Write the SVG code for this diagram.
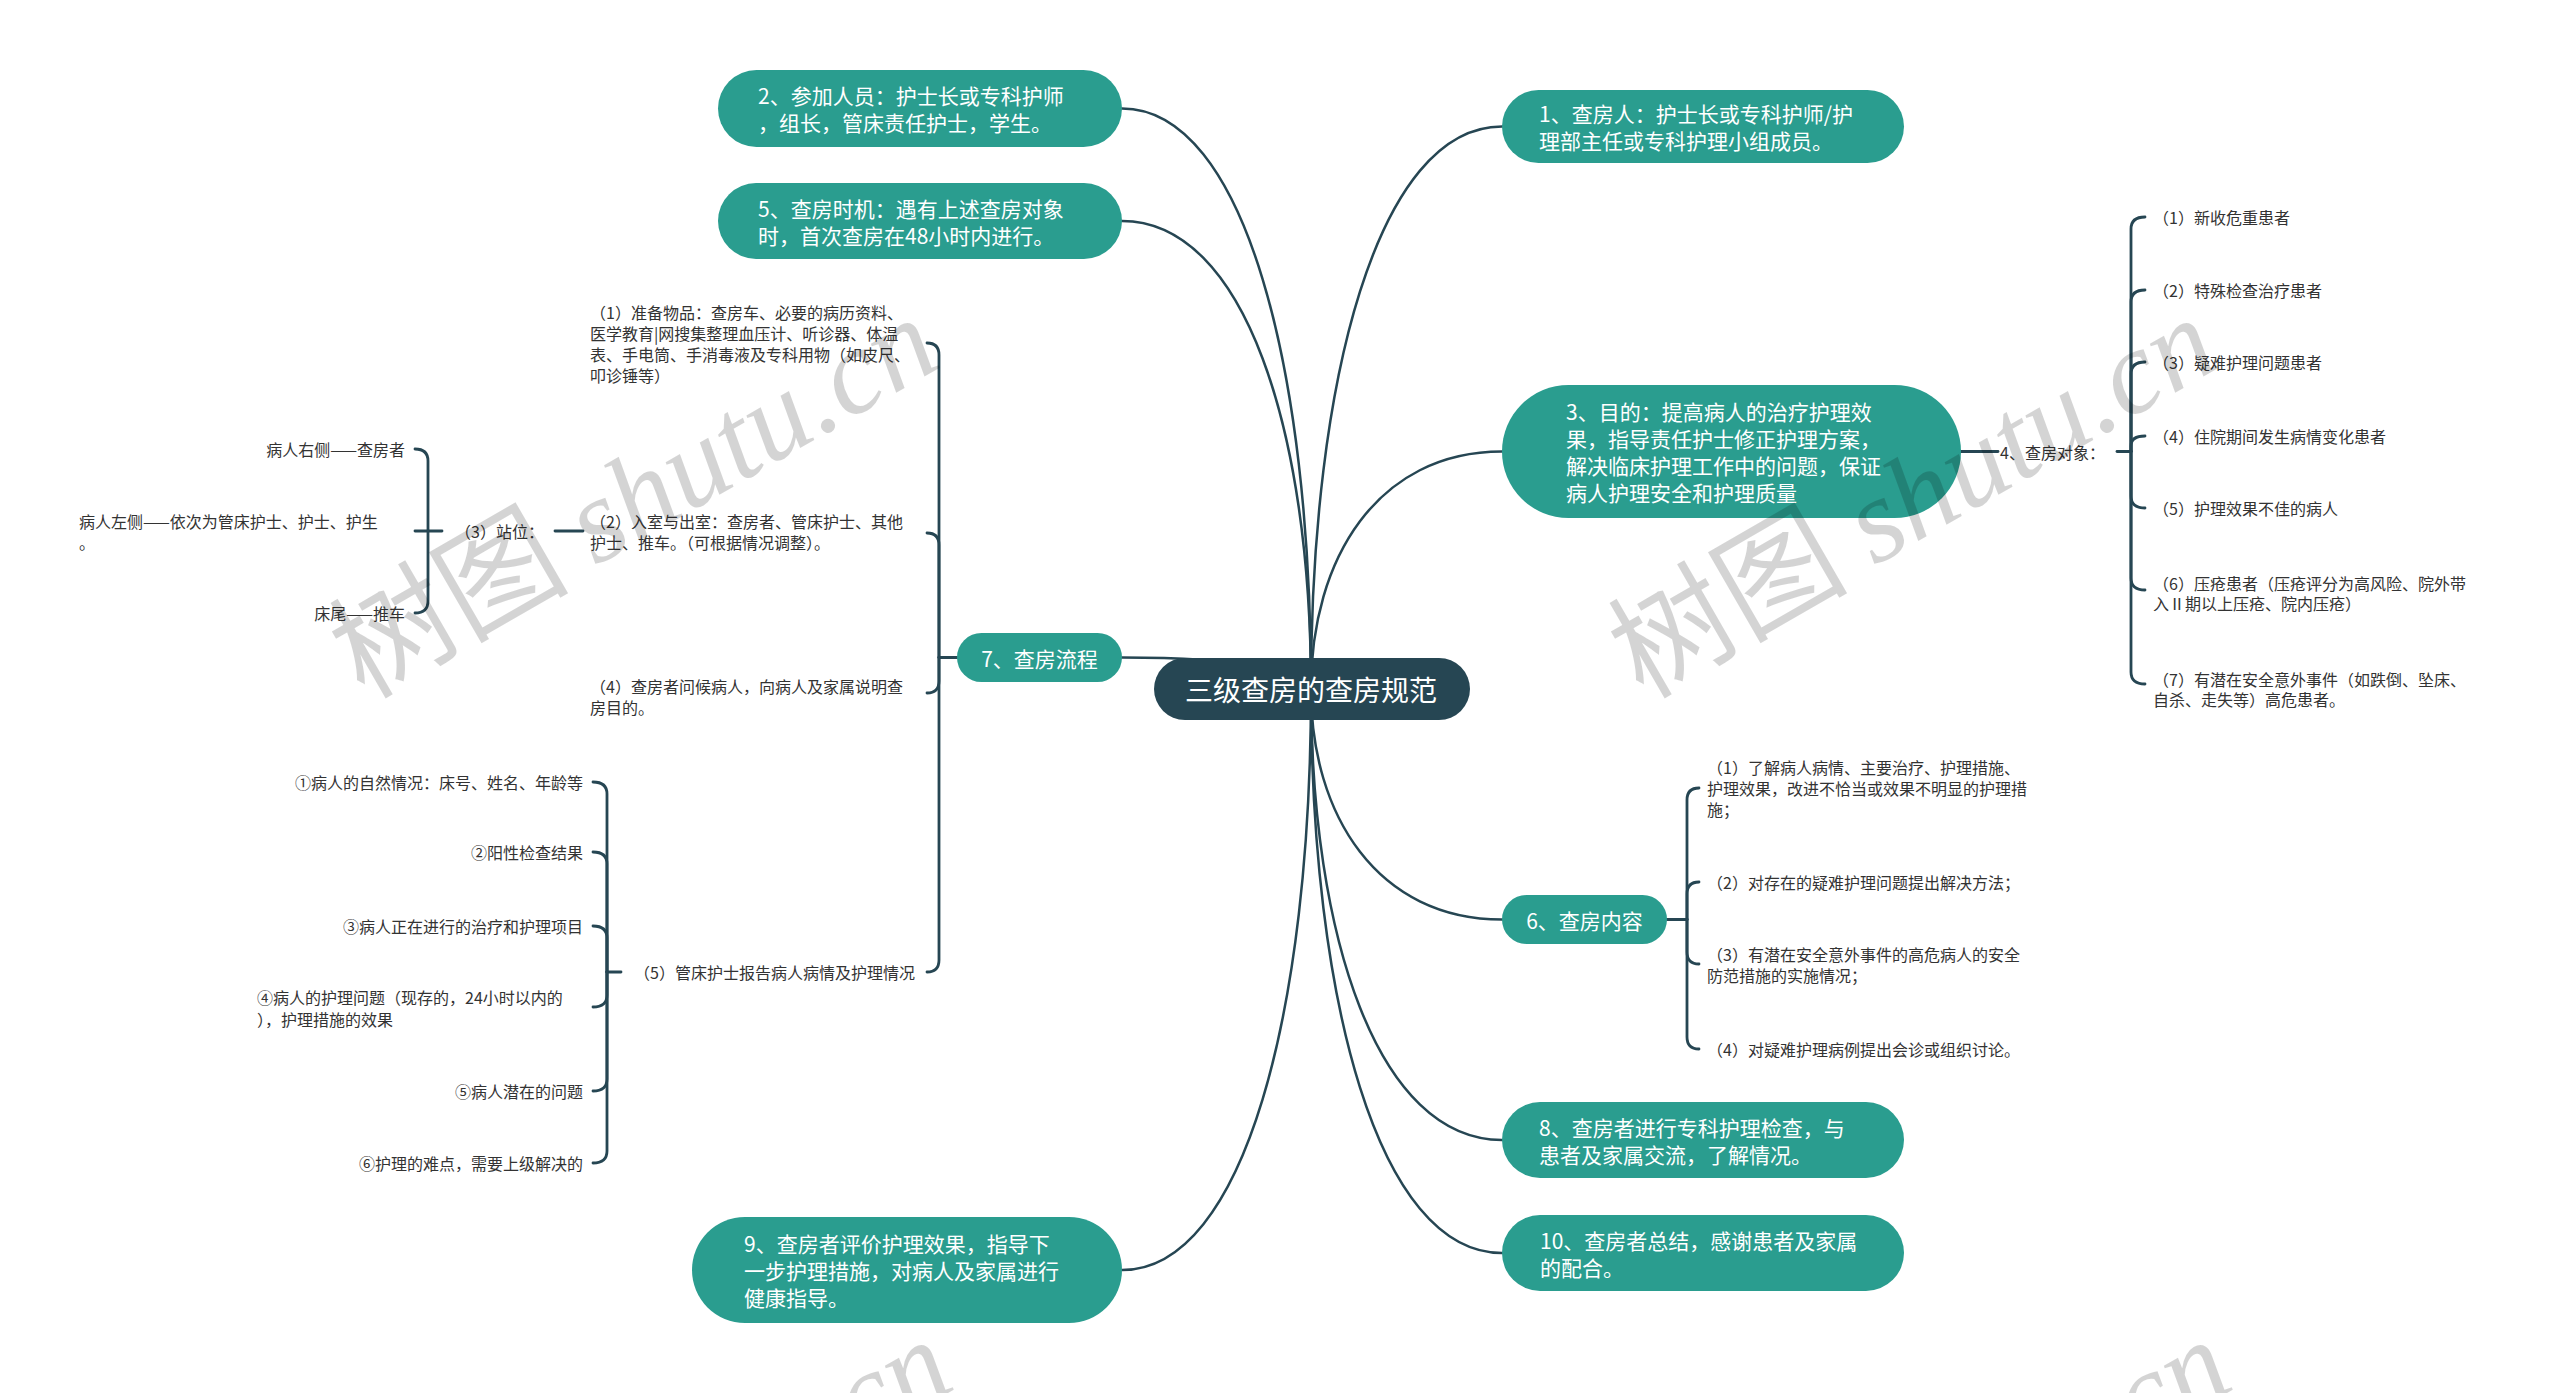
<svg xmlns="http://www.w3.org/2000/svg" width="2560" height="1393" viewBox="0 0 2560 1393">
<style>
  .bg { fill: #ffffff; }
  .root rect { fill: #264653; }
  .main rect { fill: #2a9d8f; }
  .root text { fill: #ffffff; font-family: "Noto Sans CJK SC", "Noto Sans", sans-serif; font-size: 28px; text-anchor: middle; dominant-baseline: central; }
  .main text { fill: #ffffff; font-family: "Noto Sans CJK SC", "Noto Sans", sans-serif; font-size: 21px; dominant-baseline: central; }
  .main text.c { text-anchor: middle; }
  .sub text { fill: #333333; font-family: "Noto Sans CJK SC", "Noto Sans", sans-serif; font-size: 16px; dominant-baseline: central; }
  .sub text.r { text-anchor: end; }
  #connectors path { fill: none; stroke: #264653; stroke-width: 2.5; stroke-linecap: round; }
  #connectors .br path { stroke-width: 2.8; }
  .wm { fill: #000000; fill-opacity: 0.17; font-size: 120px; }
  .wm .cjk { font-family: "Noto Sans CJK SC", sans-serif; }
  .wm .lat { font-family: "Liberation Serif", serif; font-style: italic; }
</style>
<rect class="bg" x="0" y="0" width="2560" height="1393"/>

<g id="connectors">
  <!-- root to main topics -->
  <path d="M1311,689 C1311,379.6 1377.9,126.5 1502,126.5"/>
  <path d="M1311,689 C1311,369.7 1244.9,108.5 1122,108.5"/>
  <path d="M1311,689 C1311,431.6 1244.9,221 1122,221"/>
  <path d="M1311,689 C1311,558.4 1377.9,451.5 1502,451.5"/>
  <path d="M1311,689 C1311,671.7 1244.9,657.5 1122,657.5"/>
  <path d="M1311,689 C1311,815.8 1377.9,919.5 1502,919.5"/>
  <path d="M1311,689 C1311,937 1377.9,1140 1502,1140"/>
  <path d="M1311,689 C1311,999.2 1377.9,1253 1502,1253"/>
  <path d="M1311,689 C1311,1008.6 1244.9,1270 1122,1270"/>
  <g class="br">
    <!-- node 3 -> 4、查房对象 -->
    <path d="M1961,451.5 L1998,451.5"/>
    <path d="M2117,451.5 L2131,451.5"/>
    <path d="M2131,451.5 L2131,229 Q2131,217 2145,217"/>
    <path d="M2131,451.5 L2131,302 Q2131,290 2145,290"/>
    <path d="M2131,451.5 L2131,374 Q2131,362 2145,362"/>
    <path d="M2131,451.5 L2131,446 Q2131,436 2145,436"/>
    <path d="M2131,451.5 L2131,496 Q2131,508 2145,508"/>
    <path d="M2131,451.5 L2131,578 Q2131,590 2145,590"/>
    <path d="M2131,451.5 L2131,672 Q2131,684 2145,684"/>
    <!-- node 6 -->
    <path d="M1667,919.5 L1687,919.5"/>
    <path d="M1687,919.5 L1687,800 Q1687,788 1699,788"/>
    <path d="M1687,919.5 L1687,894 Q1687,882 1699,882"/>
    <path d="M1687,919.5 L1687,952 Q1687,964 1699,964"/>
    <path d="M1687,919.5 L1687,1037 Q1687,1049 1699,1049"/>
    <!-- node 7 -->
    <path d="M957,657.5 L939,657.5"/>
    <path d="M939,657.5 L939,355 Q939,343 927,343"/>
    <path d="M939,657.5 L939,545 Q939,533 927,533"/>
    <path d="M939,657.5 L939,681 Q939,693 927,693"/>
    <path d="M939,657.5 L939,960 Q939,972 927,972"/>
    <!-- (3) 站位 -->
    <path d="M555,531 L583,531"/>
    <path d="M442,531 L428,531"/>
    <path d="M428,531 L428,461 Q428,449 415,449"/>
    <path d="M428,531 L415,531"/>
    <path d="M428,531 L428,601 Q428,613 415,613"/>
    <!-- (5) 管床护士报告 -->
    <path d="M621,972 L607,972"/>
    <path d="M607,972 L607,794 Q607,782 593,782"/>
    <path d="M607,972 L607,864 Q607,852 593,852"/>
    <path d="M607,972 L607,938 Q607,926 593,926"/>
    <path d="M607,972 L607,995 Q607,1007 593,1007"/>
    <path d="M607,972 L607,1079 Q607,1091 593,1091"/>
    <path d="M607,972 L607,1151 Q607,1163 593,1163"/>
  </g>
</g>

<g id="root" class="root">
  <rect x="1154" y="658" width="316" height="62" rx="31"/>
  <text x="1311" y="689">三级查房的查房规范</text>
</g>

<g id="node1" class="main">
  <rect x="1502" y="90" width="402" height="73" rx="36.5"/>
  <text x="1539" y="113">1、查房人：护士长或专科护师/护</text>
  <text x="1539" y="140">理部主任或专科护理小组成员。</text>
</g>
<g id="node2" class="main">
  <rect x="718" y="70" width="404" height="77" rx="38.5"/>
  <text x="758" y="95">2、参加人员：护士长或专科护师</text>
  <text x="758" y="122">，组长，管床责任护士，学生。</text>
</g>
<g id="node5" class="main">
  <rect x="718" y="183" width="404" height="76" rx="38"/>
  <text x="758" y="207.5">5、查房时机：遇有上述查房对象</text>
  <text x="758" y="234.5">时，首次查房在48小时内进行。</text>
</g>
<g id="node3" class="main">
  <rect x="1502" y="385" width="459" height="133" rx="66.5"/>
  <text x="1566" y="411">3、目的：提高病人的治疗护理效</text>
  <text x="1566" y="438">果，指导责任护士修正护理方案，</text>
  <text x="1566" y="465">解决临床护理工作中的问题，保证</text>
  <text x="1566" y="492">病人护理安全和护理质量</text>
</g>
<g id="node7" class="main">
  <rect x="957" y="633" width="165" height="49" rx="24.5"/>
  <text class="c" x="1039.5" y="657.5">7、查房流程</text>
</g>
<g id="node6" class="main">
  <rect x="1502" y="895" width="165" height="49" rx="24.5"/>
  <text class="c" x="1584.5" y="919.5">6、查房内容</text>
</g>
<g id="node8" class="main">
  <rect x="1502" y="1102" width="402" height="76" rx="38"/>
  <text x="1539" y="1126.5">8、查房者进行专科护理检查，与</text>
  <text x="1539" y="1153.5">患者及家属交流，了解情况。</text>
</g>
<g id="node10" class="main">
  <rect x="1502" y="1215" width="402" height="76" rx="38"/>
  <text x="1540" y="1240">10、查房者总结，感谢患者及家属</text>
  <text x="1540" y="1267">的配合。</text>
</g>
<g id="node9" class="main">
  <rect x="692" y="1217" width="430" height="106" rx="53"/>
  <text x="744" y="1243">9、查房者评价护理效果，指导下</text>
  <text x="744" y="1270">一步护理措施，对病人及家属进行</text>
  <text x="744" y="1297">健康指导。</text>
</g>

<g id="node4-objects" class="sub">
  <text x="2000" y="451.5">4、查房对象：</text>
</g>
<g id="obj1" class="sub"><text x="2153" y="217">（1）新收危重患者</text></g>
<g id="obj2" class="sub"><text x="2153" y="290">（2）特殊检查治疗患者</text></g>
<g id="obj3" class="sub"><text x="2153" y="362">（3）疑难护理问题患者</text></g>
<g id="obj4" class="sub"><text x="2153" y="436">（4）住院期间发生病情变化患者</text></g>
<g id="obj5" class="sub"><text x="2153" y="508">（5）护理效果不佳的病人</text></g>
<g id="obj6" class="sub">
  <text x="2153" y="583">（6）压疮患者（压疮评分为高风险、院外带</text>
  <text x="2153" y="603">入Ⅱ期以上压疮、院内压疮）</text>
</g>
<g id="obj7" class="sub">
  <text x="2153" y="679">（7）有潜在安全意外事件（如跌倒、坠床、</text>
  <text x="2153" y="699">自杀、走失等）高危患者。</text>
</g>

<g id="content1" class="sub">
  <text x="1707" y="767">（1）了解病人病情、主要治疗、护理措施、</text>
  <text x="1707" y="788">护理效果，改进不恰当或效果不明显的护理措</text>
  <text x="1707" y="809">施；</text>
</g>
<g id="content2" class="sub"><text x="1707" y="882">（2）对存在的疑难护理问题提出解决方法；</text></g>
<g id="content3" class="sub">
  <text x="1707" y="954">（3）有潜在安全意外事件的高危病人的安全</text>
  <text x="1707" y="975">防范措施的实施情况；</text>
</g>
<g id="content4" class="sub"><text x="1707" y="1049">（4）对疑难护理病例提出会诊或组织讨论。</text></g>

<g id="flow1" class="sub">
  <text x="590" y="312">（1）准备物品：查房车、必要的病历资料、</text>
  <text x="590" y="333">医学教育|网搜集整理血压计、听诊器、体温</text>
  <text x="590" y="354">表、手电筒、手消毒液及专科用物（如皮尺、</text>
  <text x="590" y="375">叩诊锤等）</text>
</g>
<g id="flow2" class="sub">
  <text x="590" y="521">（2）入室与出室：查房者、管床护士、其他</text>
  <text x="590" y="542">护士、推车。（可根据情况调整）。</text>
</g>
<g id="flow3" class="sub"><text x="455" y="531">（3）站位：</text></g>
<g id="pos1" class="sub"><text class="r" x="405" y="449">病人右侧——查房者</text></g>
<g id="pos2" class="sub">
  <text x="79" y="521">病人左侧——依次为管床护士、护士、护生</text>
  <text x="79" y="542">。</text>
</g>
<g id="pos3" class="sub"><text class="r" x="405" y="613">床尾——推车</text></g>
<g id="flow4" class="sub">
  <text x="590" y="686">（4）查房者问候病人，向病人及家属说明查</text>
  <text x="590" y="707">房目的。</text>
</g>
<g id="flow5" class="sub"><text x="634" y="972">（5）管床护士报告病人病情及护理情况</text></g>
<g id="rep1" class="sub"><text class="r" x="583" y="782">①病人的自然情况：床号、姓名、年龄等</text></g>
<g id="rep2" class="sub"><text class="r" x="583" y="852">②阳性检查结果</text></g>
<g id="rep3" class="sub"><text class="r" x="583" y="926">③病人正在进行的治疗和护理项目</text></g>
<g id="rep4" class="sub">
  <text x="257" y="997">④病人的护理问题（现存的，24小时以内的</text>
  <text x="257" y="1019">），护理措施的效果</text>
</g>
<g id="rep5" class="sub"><text class="r" x="583" y="1091">⑤病人潜在的问题</text></g>
<g id="rep6" class="sub"><text class="r" x="583" y="1163">⑥护理的难点，需要上级解决的</text></g>

<g id="watermark">
  <text class="wm" transform="translate(364,700) rotate(-30)"><tspan class="cjk">树图 </tspan><tspan class="lat">shutu.cn</tspan></text>
  <text class="wm" transform="translate(1643,700) rotate(-30)"><tspan class="cjk">树图 </tspan><tspan class="lat">shutu.cn</tspan></text>
  <text class="wm" transform="translate(378,1722) rotate(-30)"><tspan class="cjk">树图 </tspan><tspan class="lat">shutu.cn</tspan></text>
  <text class="wm" transform="translate(1657,1722) rotate(-30)"><tspan class="cjk">树图 </tspan><tspan class="lat">shutu.cn</tspan></text>
</g>
</svg>
